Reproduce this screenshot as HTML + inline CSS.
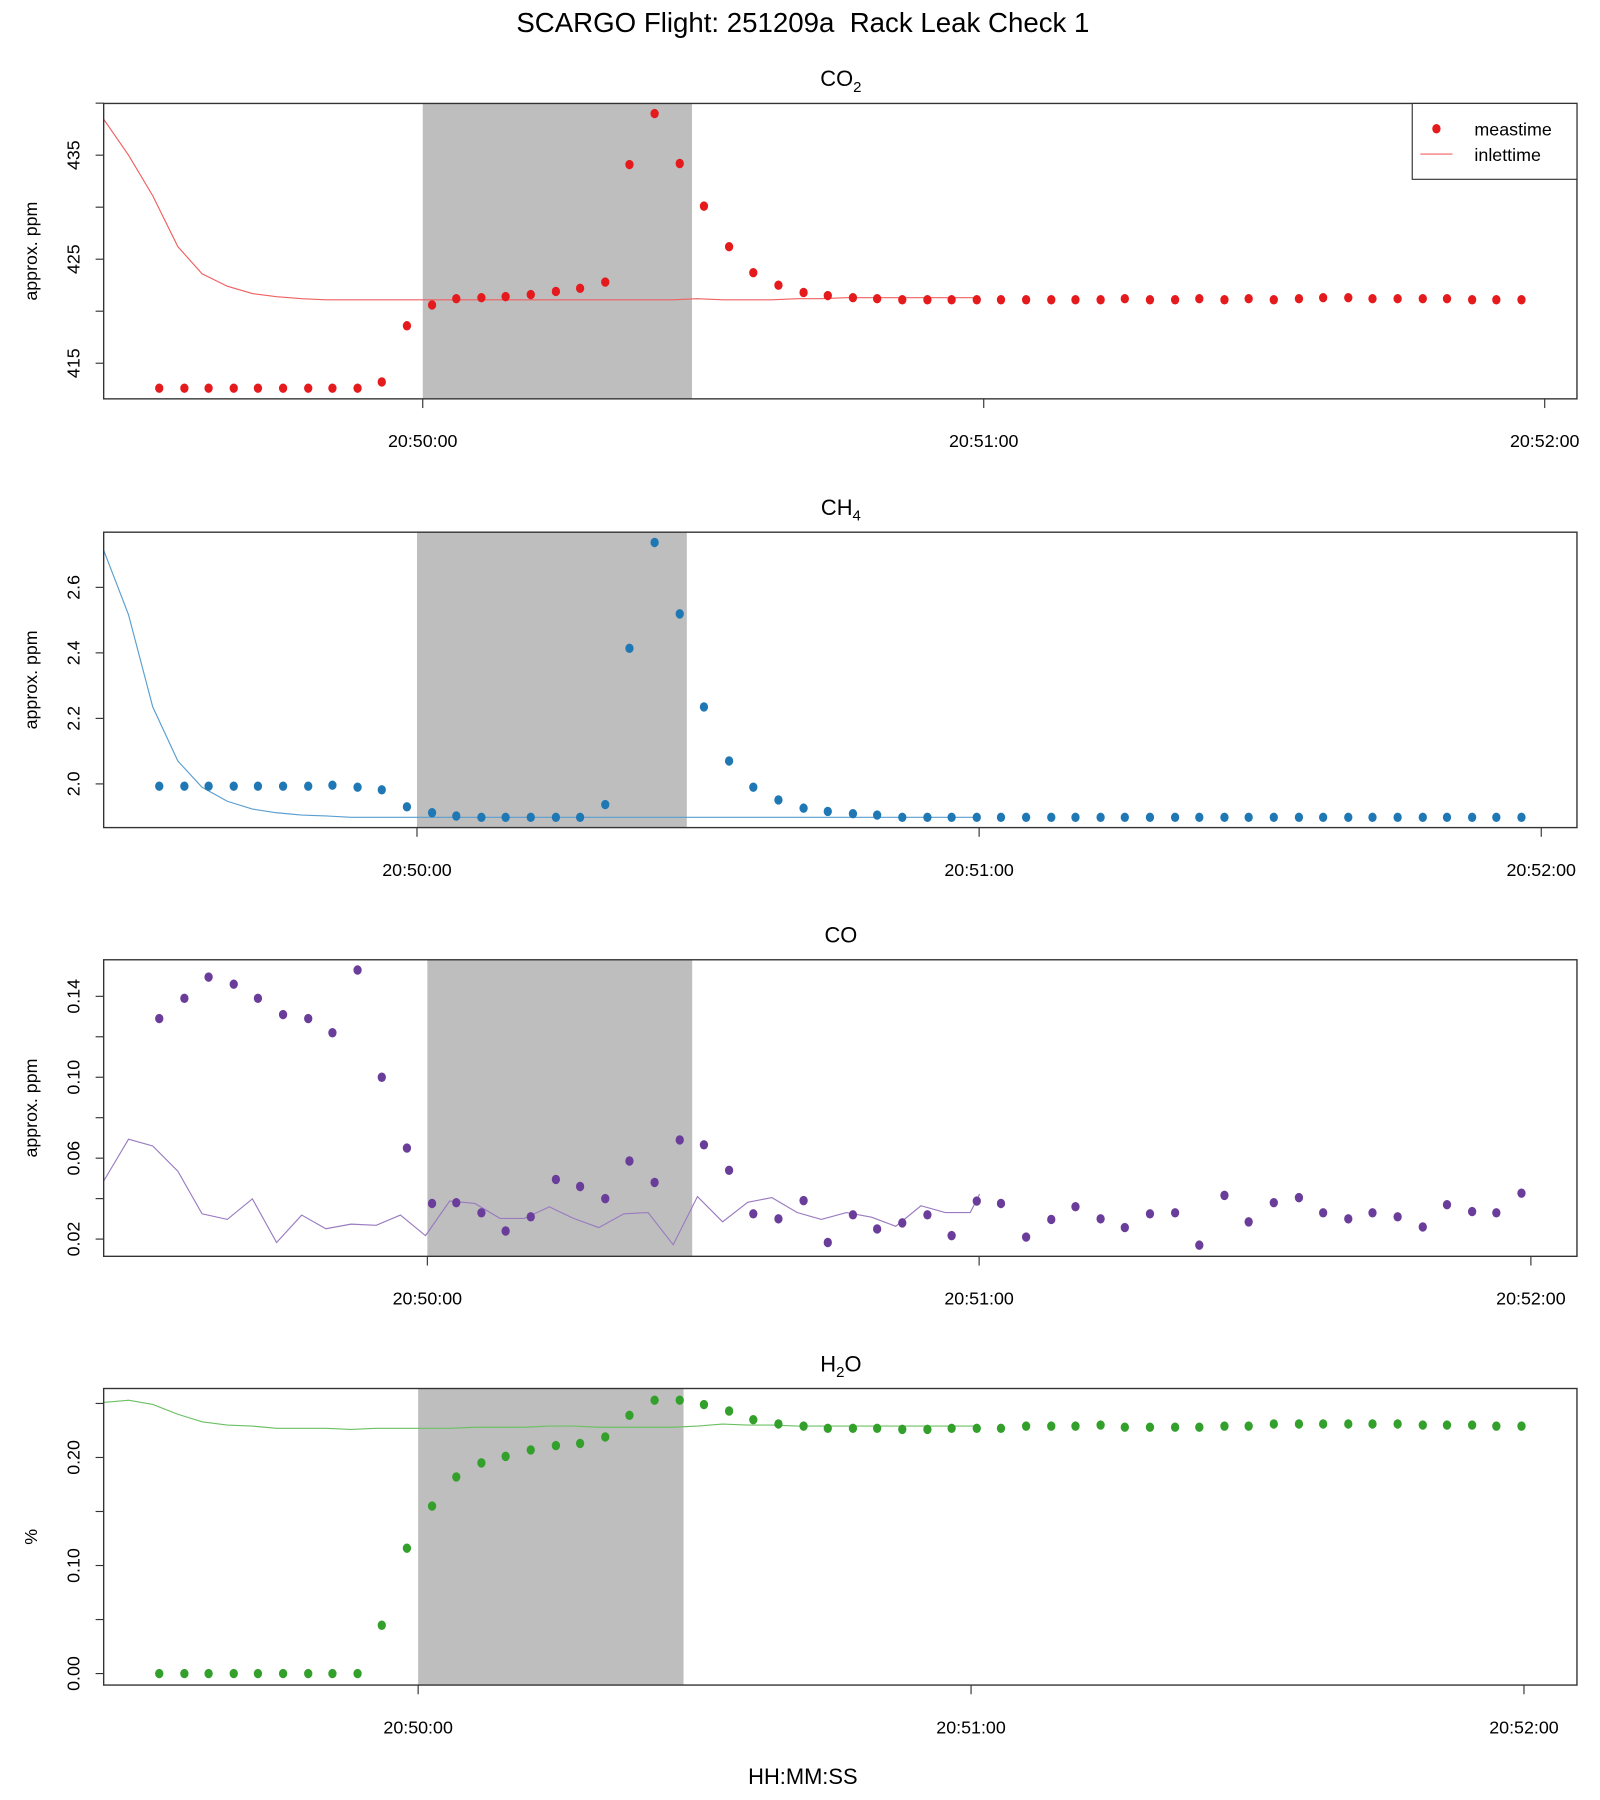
<!DOCTYPE html>
<html><head><meta charset="utf-8"><style>
html,body{margin:0;padding:0;background:#fff;}
svg{display:block;font-family:"Liberation Sans",sans-serif;}
</style></head><body>
<svg id="chart" width="1600" height="1800" viewBox="0 0 1389 1566" preserveAspectRatio="none" xmlns="http://www.w3.org/2000/svg">
<text x="697" y="28" font-size="24" text-anchor="middle">SCARGO Flight: 251209a&#160; Rack Leak Check 1</text>
<text x="697" y="1552" font-size="19" text-anchor="middle">HH:MM:SS</text>
</svg>
<script>
const measTimes=[-28.3,-25.6,-23.0,-20.3,-17.7,-15.0,-12.3,-9.7,-7.0,-4.4,-1.7,1.0,3.6,6.3,8.9,11.6,14.3,16.9,19.6,22.2,24.9,27.6,30.2,32.9,35.5,38.2,40.9,43.5,46.2,48.8,51.5,54.2,56.8,59.5,62.1,64.8,67.5,70.1,72.8,75.4,78.1,80.8,83.4,86.1,88.7,91.4,94.1,96.7,99.4,102.0,104.7,107.4,110.0,112.7,115.3,118.0];
const inletTimes=[-34.3,-31.6,-29.0,-26.3,-23.7,-21.0,-18.3,-15.7,-13.0,-10.4,-7.7,-5.0,-2.4,0.3,2.9,5.6,8.3,10.9,13.6,16.2,18.9,21.6,24.2,26.9,29.5,32.2,34.9,37.5,40.2,42.8,45.5,48.2,50.8,53.5,56.1,58.8,59.8];
const co2Meas=[412.6,412.6,412.6,412.6,412.6,412.6,412.6,412.6,412.6,413.2,418.6,420.6,421.2,421.3,421.4,421.6,421.9,422.2,422.8,434.1,439.0,434.2,430.1,426.2,423.7,422.5,421.8,421.5,421.3,421.2,421.1,421.1,421.1,421.1,421.1,421.1,421.1,421.1,421.1,421.2,421.1,421.1,421.2,421.1,421.2,421.1,421.2,421.3,421.3,421.2,421.2,421.2,421.2,421.1,421.1,421.1];
const co2Inlet=[438.5,435,431.1,426.2,423.6,422.4,421.7,421.4,421.2,421.1,421.1,421.1,421.1,421.1,421.1,421.1,421.1,421.1,421.1,421.1,421.1,421.1,421.1,421.1,421.2,421.1,421.1,421.1,421.2,421.2,421.3,421.3,421.3,421.3,421.3,421.3,421.3];
const ch4Meas=[1.993,1.993,1.993,1.993,1.993,1.993,1.993,1.996,1.99,1.982,1.93,1.912,1.902,1.898,1.898,1.898,1.898,1.898,1.937,2.414,2.737,2.519,2.235,2.07,1.99,1.951,1.926,1.916,1.909,1.905,1.898,1.898,1.898,1.898,1.898,1.898,1.898,1.898,1.898,1.898,1.898,1.898,1.898,1.898,1.898,1.898,1.898,1.898,1.898,1.898,1.898,1.898,1.898,1.898,1.898,1.898];
const ch4Inlet=[2.716,2.516,2.235,2.07,1.99,1.947,1.923,1.912,1.905,1.902,1.898,1.898,1.898,1.898,1.898,1.898,1.898,1.898,1.898,1.898,1.898,1.898,1.898,1.898,1.898,1.898,1.898,1.898,1.898,1.898,1.898,1.898,1.898,1.898,1.898,1.898,1.898];
const coMeas=[0.129,0.139,0.1495,0.146,0.139,0.131,0.129,0.122,0.153,0.100,0.065,0.0376,0.038,0.033,0.024,0.031,0.0495,0.046,0.040,0.0586,0.048,0.069,0.0666,0.054,0.0325,0.030,0.039,0.0183,0.032,0.025,0.028,0.032,0.0217,0.0388,0.0376,0.021,0.0297,0.036,0.030,0.0257,0.0325,0.033,0.017,0.0416,0.0285,0.038,0.0405,0.033,0.030,0.033,0.031,0.026,0.037,0.0336,0.033,0.0427];
const coInlet=[0.0484,0.0694,0.066,0.0535,0.0325,0.0297,0.0399,0.0183,0.0319,0.0251,0.0274,0.0268,0.0319,0.0217,0.0388,0.0376,0.0302,0.0302,0.0359,0.0302,0.0257,0.0325,0.0331,0.0172,0.041,0.0285,0.0382,0.0405,0.0331,0.0297,0.0331,0.0308,0.0263,0.0365,0.0331,0.0331,0.0422];
const h2oMeas=[0,0,0,0,0,0,0,0,0,0.0447,0.116,0.155,0.182,0.195,0.201,0.207,0.211,0.213,0.219,0.239,0.253,0.253,0.249,0.243,0.235,0.231,0.229,0.227,0.227,0.227,0.226,0.226,0.227,0.227,0.227,0.229,0.229,0.229,0.230,0.228,0.228,0.228,0.228,0.229,0.229,0.231,0.231,0.231,0.231,0.231,0.231,0.230,0.230,0.230,0.229,0.229];
const h2oInlet=[0.251,0.253,0.249,0.240,0.233,0.230,0.229,0.227,0.227,0.227,0.226,0.227,0.227,0.227,0.227,0.228,0.228,0.228,0.229,0.229,0.228,0.228,0.228,0.228,0.229,0.231,0.230,0.230,0.229,0.229,0.229,0.229,0.229,0.229,0.229,0.229,0.229];
const xTickLabels=["20:50:00","20:51:00","20:52:00"];
const xTickTimes=[0,60,120];
const shadeRange=[0,28.8];

const NS="http://www.w3.org/2000/svg";
const svg=document.getElementById('chart');
function mk(tag,attrs,parent){const e=document.createElementNS(NS,tag);for(const k in attrs)e.setAttribute(k,attrs[k]);(parent||svg).appendChild(e);return e;}
const L=90,R=1369;
const panels=[
 {key:'co2',title:'CO',sub:'2',tail:'',top:90,bot:347,x50:367,pxMin:487,vRef:415,yRef:316,ppu:9.05,ticks:[415,420,425,430,435,440],labels:[415,425,435],fmt:v=>String(v),ylab:'approx. ppm',color:'#E41A1C',line:'#F06060',meas:co2Meas,inlet:co2Inlet,legend:true},
 {key:'ch4',title:'CH',sub:'4',tail:'',top:463,bot:720,x50:362,pxMin:488,vRef:2.0,yRef:682,ppu:285,ticks:[2.0,2.2,2.4,2.6],labels:[2.0,2.2,2.4,2.6],fmt:v=>v.toFixed(1),ylab:'approx. ppm',color:'#1F78B4',line:'#5A9FD0',meas:ch4Meas,inlet:ch4Inlet},
 {key:'co',title:'CO',sub:'',tail:'',top:835,bot:1093,x50:371,pxMin:479,vRef:0.02,yRef:1078,ppu:1760,ticks:[0.02,0.04,0.06,0.08,0.10,0.12,0.14],labels:[0.02,0.06,0.10,0.14],fmt:v=>v.toFixed(2),ylab:'approx. ppm',color:'#6A3D9A',line:'#9A7BC0',meas:coMeas,inlet:coInlet},
 {key:'h2o',title:'H',sub:'2',tail:'O',top:1208,bot:1466,x50:363,pxMin:480,vRef:0,yRef:1456,ppu:940,ticks:[0,0.05,0.10,0.15,0.20,0.25],labels:[0,0.10,0.20],fmt:v=>v.toFixed(2),ylab:'%',color:'#33A02C',line:'#6CC064',meas:h2oMeas,inlet:h2oInlet}
];
const dataX=t=>367+t*485/60;
panels.forEach(p=>{
 const g=mk('g',{});
 
 
 const tickX=t=>p.x50+t*p.pxMin/60;
 const y=v=>p.yRef-(v-p.vRef)*p.ppu;
 const cid='clip-'+p.key;
 const cp=mk('clipPath',{id:cid},g);mk('rect',{x:L,y:p.top,width:R-L,height:p.bot-p.top},cp);
 const sh=mk('rect',{x:tickX(shadeRange[0]),y:p.top,width:tickX(shadeRange[1])-tickX(shadeRange[0]),height:p.bot-p.top,fill:'#BEBEBE'},g);
 
 
 const pts=p.inlet.map((v,i)=>dataX(inletTimes[i]).toFixed(1)+','+y(v).toFixed(1)).join(' ');
 const ln=mk('polyline',{points:pts,fill:'none',stroke:p.line,'stroke-width':1,'clip-path':'url(#'+cid+')'},g);
 
 
 p.meas.forEach((v,i)=>{
  const c=mk('ellipse',{cx:dataX(measTimes[i]),cy:y(v),rx:3.6,ry:4.1,fill:p.color},g);
  
  
 });
 const box=mk('rect',{x:L,y:p.top,width:R-L,height:p.bot-p.top,fill:'none',stroke:'#333','stroke-width':1.2},g);
 
 
 p.ticks.forEach(v=>{mk('line',{x1:L-7,x2:L,y1:y(v),y2:y(v),stroke:'#333','stroke-width':1},g);});
 p.labels.forEach(v=>{
  const yy=y(v);
  const t=mk('text',{x:0,y:0,'font-size':15.5,'text-anchor':'middle',transform:'translate(69,'+yy+') rotate(-90)'},g);
  t.textContent=p.fmt(v);
  
  
 });
 xTickTimes.forEach((tt,i)=>{
  const xx=tickX(tt);
  mk('line',{x1:xx,x2:xx,y1:p.bot,y2:p.bot+8,stroke:'#333','stroke-width':1},g);
  const t=mk('text',{x:xx,y:p.bot+42,'font-size':15.5,'text-anchor':'middle'},g);
  t.textContent=xTickLabels[i];
  
  
 });
 const yl=mk('text',{x:0,y:0,'font-size':15.5,'text-anchor':'middle',transform:'translate(32,'+((p.top+p.bot)/2)+') rotate(-90)'},g);
 yl.textContent=p.ylab;
 
 
 const ti=mk('text',{x:730,y:p.top-15,'font-size':19,'text-anchor':'middle'},g);
 
 
 ti.appendChild(document.createTextNode(p.title));
 if(p.sub){const s=document.createElementNS(NS,'tspan');s.setAttribute('font-size',13);s.setAttribute('dy',5);s.textContent=p.sub;ti.appendChild(s);}
 if(p.tail){const s=document.createElementNS(NS,'tspan');s.setAttribute('dy',-5);s.textContent=p.tail;ti.appendChild(s);}
 if(p.legend){
  const lg=mk('g',{},g);
  
  
  mk('rect',{x:1226,y:90,width:143,height:66,fill:'#fff',stroke:'#333','stroke-width':1},lg);
  const e1=mk('g',{},lg);
  
  
  mk('ellipse',{cx:1247,cy:112,rx:3.6,ry:4.1,fill:p.color},e1);
  const t1=mk('text',{x:1280,y:118,'font-size':15.5},e1);t1.textContent='meastime';
  const e2=mk('g',{},lg);
  
  
  mk('line',{x1:1233,x2:1261,y1:134,y2:134,stroke:p.line,'stroke-width':1},e2);
  const t2=mk('text',{x:1280,y:140,'font-size':15.5},e2);t2.textContent='inlettime';
 }
});
</script>
</body></html>
